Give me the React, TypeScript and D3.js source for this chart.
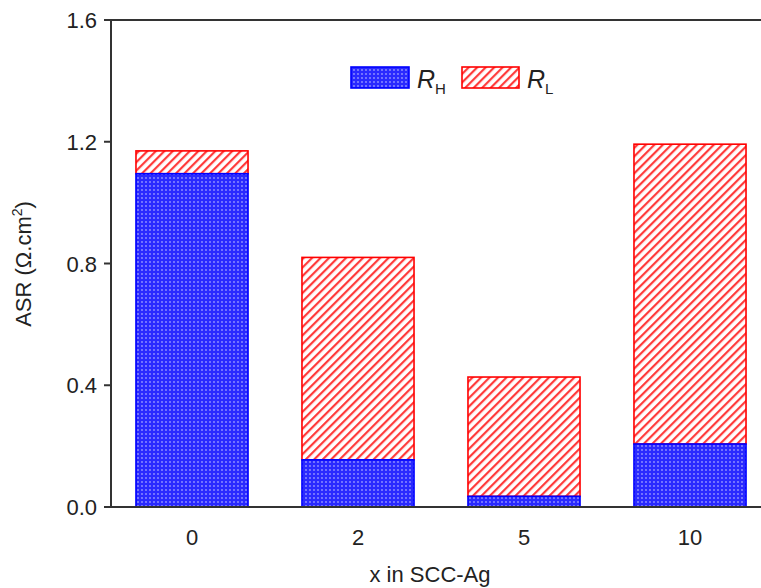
import React from "react";
import * as d3 from "d3";

const categories = ["0", "2", "5", "10"];
const rH = [1.095, 0.155, 0.035, 0.207];
const rL = [0.075, 0.665, 0.392, 0.985];
const yTicks = [0.0, 0.4, 0.8, 1.2, 1.6];

const W = 761;
const H = 588;

export default function App() {
  const x = d3.scaleBand<string>().domain(categories).range([109, 773]).paddingInner(0.325).paddingOuter(0.1625);
  const y = d3.scaleLinear().domain([0, 1.6]).range([507, 20]);
  const bw = x.bandwidth();
  const font = "Liberation Sans, Arial, sans-serif";
  return (
    <svg width={W} height={H} style={{ position: "absolute", left: 0, top: 0 }}>
      <defs>
        <pattern id="blueP" width="4" height="4" patternUnits="userSpaceOnUse">
          <rect width="4" height="4" fill="#2a2aff" />
          <circle cx="2" cy="2" r="0.9" fill="#ffffff" opacity="0.5" />
        </pattern>
        <pattern id="redP" width="6" height="6" patternUnits="userSpaceOnUse" patternTransform="rotate(45)">
          <rect width="6" height="6" fill="#ffffff" />
          <rect x="0" y="0" width="2.2" height="6" fill="#ff3a3a" />
        </pattern>
      </defs>
      <rect width={W} height={H} fill="#fff" />
      {categories.map((c, i) => {
        const x0 = x(c)!;
        const yH = y(rH[i]);
        const yT = y(rH[i] + rL[i]);
        return (
          <g key={c}>
            <rect x={x0} y={yT} width={bw} height={yH - yT} fill="url(#redP)" stroke="#ff0000" strokeWidth={1.6} />
            <rect x={x0} y={yH} width={bw} height={y(0) - yH} fill="url(#blueP)" stroke="#0000ff" strokeWidth={1.6} />
          </g>
        );
      })}
      {/* axes */}
      <line x1={111} x2={W} y1={20} y2={20} stroke="#333" strokeWidth={2} />
      <line x1={111} x2={W} y1={507} y2={507} stroke="#333" strokeWidth={2} />
      <line x1={111} x2={111} y1={20} y2={508} stroke="#333" strokeWidth={2} />
      {yTicks.map((t) => (
        <g key={t}>
          <line x1={104} x2={111} y1={y(t)} y2={y(t)} stroke="#333" strokeWidth={2} />
          <text x={97} y={y(t) + 8} textAnchor="end" fontSize={22} fontFamily={font} fill="#222">
            {t.toFixed(1)}
          </text>
        </g>
      ))}
      {categories.map((c) => (
        <text key={c} x={x(c)! + bw / 2} y={545} textAnchor="middle" fontSize={22} fontFamily={font} fill="#222">
          {c}
        </text>
      ))}
      <text x={430} y={582} textAnchor="middle" fontSize={22} fontFamily={font} fill="#222">
        x in SCC-Ag
      </text>
      <text transform="translate(31,264) rotate(-90)" textAnchor="middle" fontSize={22} fontFamily={font} fill="#222">
        ASR (Ω.cm<tspan dy={-9} fontSize={14}>2</tspan><tspan dy={9}>)</tspan>
      </text>
      {/* legend */}
      <rect x={351} y={67} width={58} height={21} fill="url(#blueP)" stroke="#0000ff" strokeWidth={1.6} />
      <text x={417} y={88} fontSize={25} fontFamily={font} fontStyle="italic" fill="#222">
        R<tspan dy={6} fontSize={15} fontStyle="normal">H</tspan>
      </text>
      <rect x={462} y={67} width={57} height={21} fill="url(#redP)" stroke="#ff0000" strokeWidth={1.6} />
      <text x={527} y={88} fontSize={25} fontFamily={font} fontStyle="italic" fill="#222">
        R<tspan dy={6} fontSize={15} fontStyle="normal">L</tspan>
      </text>
    </svg>
  );
}
